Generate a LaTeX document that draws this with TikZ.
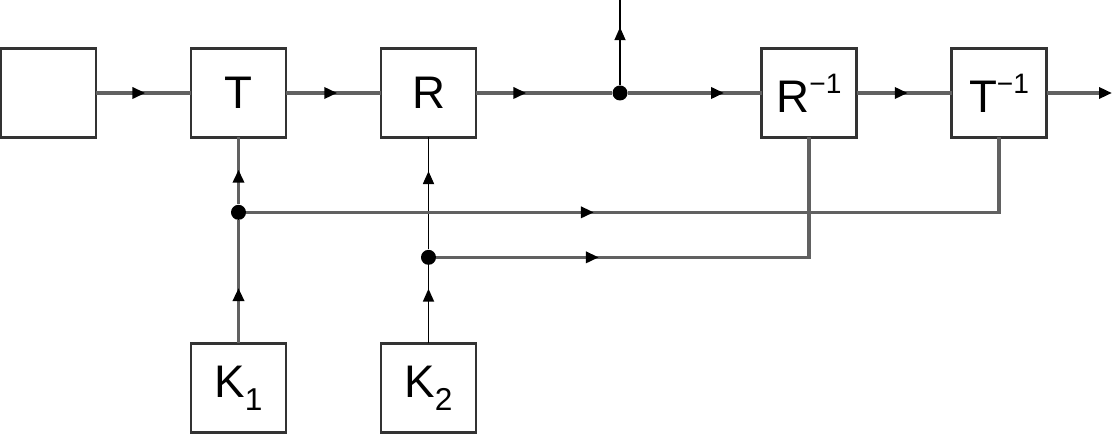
\documentclass[tikz,border=0pt]{standalone}
\usepackage{fontspec}
\setmainfont{Liberation Sans}
\usepackage{tikz}
\usetikzlibrary{positioning,arrows.meta,decorations.markings}

\newcommand{\upidx}[1]{\raisebox{0.42em}{\fontsize{16}{16}\selectfont #1}}
\newcommand{\lowidx}[1]{\raisebox{-0.28em}{\fontsize{18}{18}\selectfont #1}}

\begin{document}
\begin{tikzpicture}[
  blk/.style={draw=black!80, line width=1.2pt, minimum width=1.9cm,
              minimum height=1.78cm, inner sep=0pt, outer sep=0pt,
              font=\fontsize{26}{30}\selectfont},
  wire/.style={draw=black!62, line width=2pt},
  fine/.style={draw=black, line width=1pt},
  midarr/.style={postaction={decorate}, decoration={markings,
      mark=at position #1 with {\arrow[black]{Triangle[length=2.6mm,width=2.2mm]}}}},
  dot/.style={circle, fill=black, inner sep=0pt, minimum size=0.3cm},
  node distance=1.9cm
]
  \useasboundingbox (0,0) rectangle (22.32,8.84);

  \node[blk] (src) at (0.97,6.98) {};
  \node[blk, right=of src] (T) {T};
  \node[blk, right=of T] (R) {R};
  \node[blk, right=5.71cm of R] (Rinv) {R\upidx{−1}};
  \node[blk, right=of Rinv] (Tinv) {T\upidx{−1}};
  \node[blk, below=4.12cm of T] (K1) {K\lowidx{1}};
  \node[blk, below=4.12cm of R] (K2) {K\lowidx{2}};

  \node[dot] (tap) at (12.4,6.98) {};
  \node[dot, below=1.34cm of T] (d1) {};
  \node[dot, below=2.24cm of R] (d2) {};
  \coordinate (eve) at (12.4,8.84);
  \coordinate (out) at (22.24,6.98);

  % channel
  \draw[wire, midarr=0.52] (src) -- (T);
  \draw[wire, midarr=0.54] (T) -- (R);
  \draw[wire, midarr=0.37] (R) -- (tap);
  \draw[fine, midarr=0.68] (tap) -- (eve);
  \draw[wire, midarr=0.72] (tap) -- (Rinv);
  \draw[wire, midarr=0.54] (Rinv) -- (Tinv);
  \draw[wire, -{Triangle[length=2.6mm,width=2.2mm,color=black]}] (Tinv) -- (out);

  % keys
  \draw[wire, midarr=0.45] (K1) -- (d1);
  \draw[wire, midarr=0.52] (d1) -- (T);
  \draw[fine, midarr=0.7] (K2) -- (d2);
  \draw[fine, midarr=0.7] (d2) -- (R);
  \draw[wire, midarr=0.42] (d1) -- (d1 -| Tinv) -- (Tinv);
  \draw[wire, midarr=0.33] (d2) -- (d2 -| Rinv) -- (Rinv);
\end{tikzpicture}
\end{document}
